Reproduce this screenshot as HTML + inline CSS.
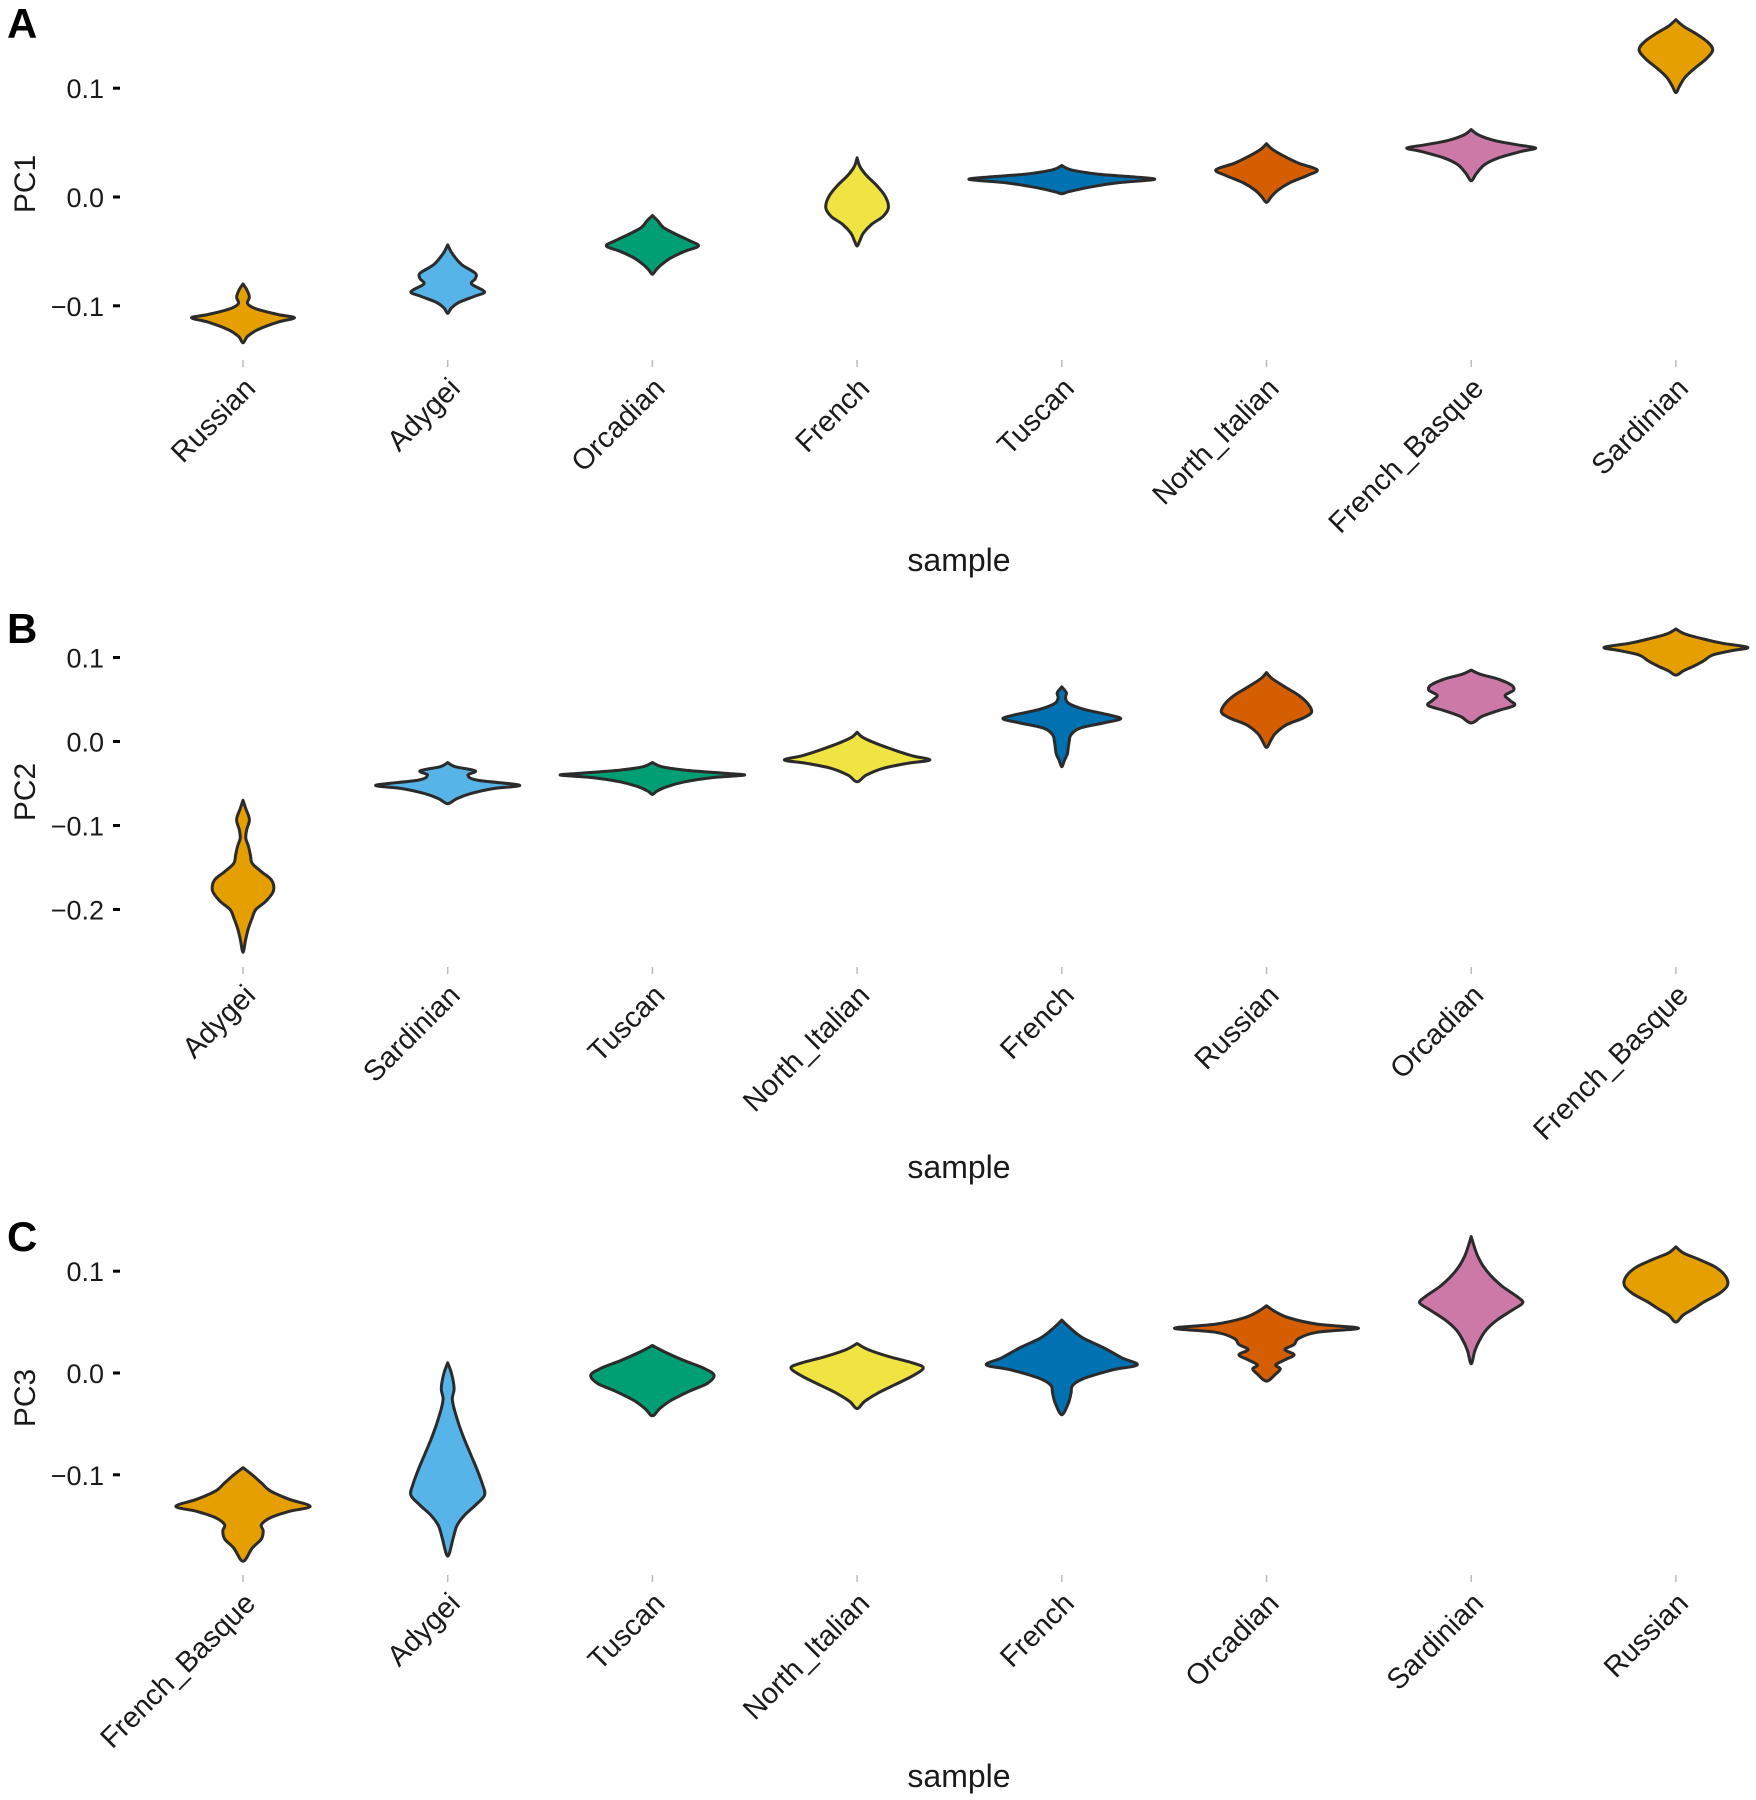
<!DOCTYPE html>
<html><head><meta charset="utf-8">
<style>
html,body{margin:0;padding:0;background:#fff;}
svg{display:block;font-family:"Liberation Sans",Arial,sans-serif;}
</style></head>
<body>
<svg id="chart" width="1756" height="1800" viewBox="0 0 1756 1800" xmlns="http://www.w3.org/2000/svg"></svg>
<script>
// ---------- data ----------
const palette = ["#E69F00","#56B4E9","#009E73","#F0E442","#0072B2","#D55E00","#CC79A7","#E69F00"];

const catsA = ["Russian","Adygei","Orcadian","French","Tuscan","North_Italian","French_Basque","Sardinian"];
const catsB = ["Adygei","Sardinian","Tuscan","North_Italian","French","Russian","Orcadian","French_Basque"];
const catsC = ["French_Basque","Adygei","Tuscan","North_Italian","French","Orcadian","Sardinian","Russian"];

const ticksA = [0.1, 0.0, -0.1];
const ticksB = [0.1, 0.0, -0.1, -0.2];
const ticksC = [0.1, 0.0, -0.1];
const tickLabelsA = ["0.1","0.0","\u22120.1"];
const tickLabelsB = ["0.1","0.0","\u22120.1","\u22120.2"];
const tickLabelsC = ["0.1","0.0","\u22120.1"];

// density profiles: [value, relative half-width]
const violinsA = [
 [[-0.080,0],[-0.085,0.04],[-0.092,0.07],[-0.098,0.05],[-0.103,0.15],[-0.108,0.38],[-0.111,0.56],[-0.115,0.38],[-0.122,0.16],[-0.128,0.05],[-0.134,0]],
 [[-0.044,0],[-0.052,0.05],[-0.062,0.15],[-0.070,0.3],[-0.075,0.3],[-0.080,0.26],[-0.087,0.4],[-0.091,0.3],[-0.097,0.12],[-0.102,0.04],[-0.107,0]],
 [[-0.017,0],[-0.022,0.06],[-0.028,0.12],[-0.034,0.25],[-0.040,0.4],[-0.045,0.5],[-0.050,0.35],[-0.056,0.2],[-0.062,0.1],[-0.067,0.04],[-0.071,0]],
 [[0.036,0],[0.028,0.03],[0.020,0.1],[0.010,0.22],[0.000,0.31],[-0.010,0.34],[-0.018,0.28],[-0.025,0.16],[-0.033,0.07],[-0.040,0.03],[-0.045,0]],
 [[0.029,0],[0.025,0.1],[0.021,0.4],[0.018,0.85],[0.016,1.0],[0.013,0.6],[0.009,0.3],[0.005,0.08],[0.003,0]],
 [[0.049,0],[0.044,0.06],[0.038,0.18],[0.031,0.35],[0.025,0.55],[0.020,0.45],[0.013,0.25],[0.006,0.12],[0.000,0.05],[-0.005,0]],
 [[0.062,0],[0.057,0.08],[0.052,0.25],[0.048,0.5],[0.045,0.7],[0.042,0.55],[0.036,0.3],[0.030,0.15],[0.022,0.06],[0.015,0]],
 [[0.163,0],[0.157,0.08],[0.150,0.22],[0.142,0.35],[0.135,0.40],[0.127,0.33],[0.118,0.2],[0.110,0.1],[0.102,0.04],[0.096,0]]
];
const violinsB = [
 [[-0.070,0],[-0.080,0.03],[-0.093,0.07],[-0.105,0.04],[-0.115,0.03],[-0.125,0.06],[-0.135,0.08],[-0.145,0.1],[-0.155,0.2],[-0.165,0.31],[-0.178,0.33],[-0.190,0.25],[-0.200,0.14],[-0.210,0.1],[-0.222,0.06],[-0.235,0.03],[-0.251,0]],
 [[-0.025,0],[-0.030,0.08],[-0.035,0.3],[-0.040,0.22],[-0.046,0.32],[-0.052,0.78],[-0.056,0.5],[-0.062,0.25],[-0.068,0.1],[-0.074,0]],
 [[-0.025,0],[-0.030,0.1],[-0.034,0.35],[-0.038,0.8],[-0.040,1.0],[-0.043,0.65],[-0.048,0.35],[-0.054,0.15],[-0.059,0.05],[-0.063,0]],
 [[0.011,0],[0.005,0.06],[-0.002,0.2],[-0.010,0.4],[-0.017,0.6],[-0.022,0.79],[-0.026,0.55],[-0.032,0.28],[-0.040,0.1],[-0.048,0]],
 [[0.065,0],[0.058,0.05],[0.052,0.04],[0.045,0.08],[0.038,0.25],[0.032,0.5],[0.027,0.64],[0.022,0.45],[0.016,0.2],[0.008,0.1],[0.000,0.08],[-0.008,0.07],[-0.015,0.06],[-0.022,0.03],[-0.030,0]],
 [[0.082,0],[0.075,0.06],[0.065,0.2],[0.055,0.35],[0.045,0.45],[0.035,0.49],[0.028,0.4],[0.020,0.22],[0.010,0.1],[0.002,0.05],[-0.007,0]],
 [[0.085,0],[0.080,0.1],[0.074,0.3],[0.067,0.44],[0.061,0.46],[0.055,0.37],[0.049,0.42],[0.043,0.47],[0.037,0.3],[0.030,0.12],[0.022,0]],
 [[0.134,0],[0.128,0.1],[0.122,0.3],[0.117,0.5],[0.112,0.78],[0.108,0.6],[0.103,0.4],[0.096,0.3],[0.090,0.2],[0.084,0.08],[0.079,0]]
];
const violinsC = [
 [[-0.093,0],[-0.100,0.1],[-0.108,0.2],[-0.116,0.3],[-0.124,0.5],[-0.131,0.73],[-0.136,0.5],[-0.142,0.3],[-0.149,0.2],[-0.155,0.22],[-0.163,0.2],[-0.172,0.1],[-0.185,0]],
 [[0.010,0],[0.000,0.04],[-0.015,0.07],[-0.025,0.05],[-0.035,0.07],[-0.050,0.12],[-0.065,0.18],[-0.080,0.25],[-0.095,0.32],[-0.110,0.38],[-0.120,0.40],[-0.130,0.3],[-0.140,0.18],[-0.150,0.1],[-0.162,0.06],[-0.180,0]],
 [[0.027,0],[0.020,0.15],[0.012,0.35],[0.005,0.55],[-0.002,0.67],[-0.010,0.6],[-0.018,0.4],[-0.027,0.2],[-0.035,0.08],[-0.042,0]],
 [[0.029,0],[0.023,0.12],[0.016,0.35],[0.010,0.6],[0.005,0.72],[-0.003,0.6],[-0.012,0.4],[-0.020,0.22],[-0.028,0.08],[-0.035,0]],
 [[0.052,0],[0.045,0.08],[0.035,0.22],[0.025,0.45],[0.015,0.65],[0.008,0.82],[0.003,0.55],[-0.005,0.25],[-0.012,0.12],[-0.020,0.1],[-0.030,0.07],[-0.041,0]],
 [[0.066,0],[0.060,0.1],[0.054,0.25],[0.048,0.55],[0.044,1.0],[0.040,0.55],[0.034,0.35],[0.028,0.3],[0.023,0.2],[0.018,0.3],[0.013,0.2],[0.008,0.1],[0.004,0.15],[-0.001,0.1],[-0.008,0]],
 [[0.134,0],[0.125,0.03],[0.115,0.07],[0.105,0.13],[0.095,0.22],[0.085,0.34],[0.075,0.5],[0.069,0.56],[0.062,0.45],[0.052,0.28],[0.042,0.16],[0.032,0.09],[0.022,0.04],[0.009,0]],
 [[0.124,0],[0.118,0.08],[0.112,0.24],[0.104,0.43],[0.095,0.54],[0.086,0.56],[0.078,0.47],[0.070,0.31],[0.063,0.19],[0.057,0.08],[0.050,0]]
];

// ---------- drawing ----------
const NS = "http://www.w3.org/2000/svg";
const svg = document.getElementById("chart");
function mk(tag, attrs, parent){
  const e = document.createElementNS(NS, tag);
  for (const k in attrs) e.setAttribute(k, attrs[k]);
  (parent||svg).appendChild(e);
  return e;
}
const X0 = 243, XSTEP = 204.7, MAXHW = 92;
function xScale(i){ return X0 + i*XSTEP; }

function smoothPath(pts){
  let d = "M" + pts[0][0].toFixed(1) + "," + pts[0][1].toFixed(1);
  for (let i=0;i<pts.length-1;i++){
    const p0 = pts[i-1]||pts[i], p1 = pts[i], p2 = pts[i+1], p3 = pts[i+2]||pts[i+1];
    const c1 = [p1[0]+(p2[0]-p0[0])/6, p1[1]+(p2[1]-p0[1])/6];
    const c2 = [p2[0]-(p3[0]-p1[0])/6, p2[1]-(p3[1]-p1[1])/6];
    d += "C"+c1[0].toFixed(1)+","+c1[1].toFixed(1)+" "+c2[0].toFixed(1)+","+c2[1].toFixed(1)+" "+p2[0].toFixed(1)+","+p2[1].toFixed(1);
  }
  return d;
}

function panel(cfg){
  const g = mk("g", {});
  
  
  const yS = v => cfg.y0 - v*cfg.per;

  const letter = mk("text", {x:7, y:cfg.letterY, "font-size":42, "font-weight":"bold", fill:"#000"}, g);
  letter.textContent = cfg.letter;
  
  

  const yt = mk("text", {x:0, y:0, "font-size":30, fill:"#1a1a1a", "text-anchor":"middle",
    transform:"translate(35,"+cfg.titleY+") rotate(-90)"}, g);
  yt.textContent = cfg.ytitle;
  
  

  cfg.ticks.forEach((t,i)=>{
    const y = yS(t);
    const tl = mk("text", {x:104, y:y+10, "font-size":27, fill:"#1a1a1a", "text-anchor":"end"}, g);
    tl.textContent = cfg.tickLabels[i];
    
    
    const tk = mk("line", {x1:113, x2:120, y1:y, y2:y, stroke:"#000", "stroke-width":3}, g);
    
    
  });

  cfg.cats.forEach((c,i)=>{
    const x = xScale(i);
    const tk = mk("line", {x1:x, x2:x, y1:cfg.tickY, y2:cfg.tickY+7, stroke:"#bbb", "stroke-width":1.5}, g);
    
    
    const lb = mk("text", {x:0, y:0, "font-size":29, fill:"#1a1a1a", "text-anchor":"end",
      transform:"translate("+(x+14)+","+(cfg.tickY+30)+") rotate(-45)"}, g);
    lb.textContent = c;
    
    

    const prof = cfg.violins[i];
    const right = prof.map(p=>[x + p[1]*MAXHW, yS(p[0])]);
    const left = prof.slice().reverse().map(p=>[x - p[1]*MAXHW, yS(p[0])]);
    const pts = right.concat(left.slice(1));
    const path = mk("path", {d: smoothPath(pts)+"Z", fill: palette[i], stroke:"#2b2b2b", "stroke-width":3, "stroke-linejoin":"round"}, g);
    
    
  });

  const xt = mk("text", {x:959, y:cfg.xtitleY, "font-size":32, fill:"#1a1a1a", "text-anchor":"middle"}, g);
  xt.textContent = "sample";
  
  
}

panel({id:"pc1", letter:"A", letterY:38, ytitle:"PC1", titleY:184, y0:197, per:1088,
  ticks:ticksA, tickLabels:tickLabelsA, cats:catsA, violins:violinsA, tickY:360, xtitleY:571});
panel({id:"pc2", letter:"B", letterY:643, ytitle:"PC2", titleY:792, y0:741.5, per:840,
  ticks:ticksB, tickLabels:tickLabelsB, cats:catsB, violins:violinsB, tickY:967, xtitleY:1178});
panel({id:"pc3", letter:"C", letterY:1251, ytitle:"PC3", titleY:1398, y0:1373, per:1018,
  ticks:ticksC, tickLabels:tickLabelsC, cats:catsC, violins:violinsC, tickY:1575, xtitleY:1787});
</script>
</body></html>
